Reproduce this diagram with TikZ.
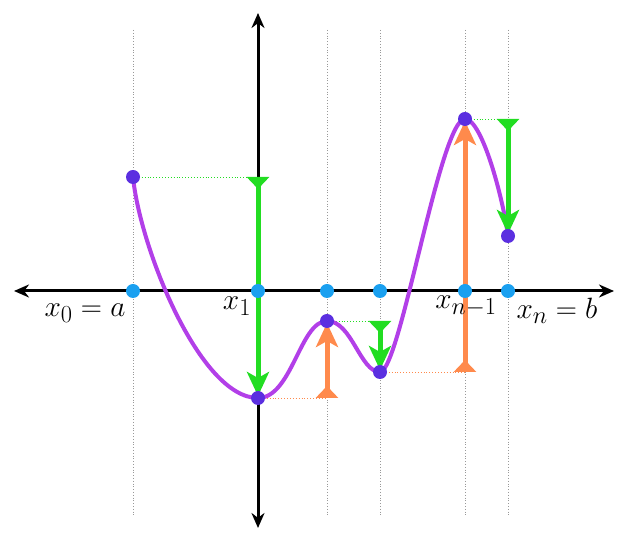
\documentclass[tikz,border=0pt]{standalone}
\usetikzlibrary{arrows.meta}
\definecolor{ptblue}{HTML}{1AA0F0}
\definecolor{curvep}{HTML}{B23FE8}
\definecolor{dotp}{HTML}{5B2FE0}
\definecolor{grn}{HTML}{22DD22}
\definecolor{org}{HTML}{FF8A4C}
\tikzset{
  axisline/.style={line width=3pt,{Stealth[width=13pt,length=15pt]}-{Stealth[width=13pt,length=15pt]}},
  gridline/.style={gray!80,line width=0.8pt,dotted},
  axispt/.style={circle,fill=ptblue,inner sep=0pt,minimum size=14pt},
  curvept/.style={circle,fill=dotp,inner sep=0pt,minimum size=14pt},
  curveline/.style={curvep,line width=4pt},
  garrow/.style={grn,line width=5pt,{Triangle[reversed,width=22pt,length=12pt]}-{Stealth[width=22pt,length=24pt,inset=6pt]}},
  oarrow/.style={org,line width=5pt,{Triangle[reversed,width=22pt,length=12pt]}-{Stealth[width=22pt,length=24pt,inset=6pt]}},
  gdot/.style={grn,line width=0.9pt,dotted},
  odot/.style={org,line width=0.9pt,dotted},
  lbl/.style={font=\Huge,inner sep=0pt,scale=1.18,transform shape}
}
\begin{document}
\begin{tikzpicture}[x=1pt,y=1pt]
\useasboundingbox (0,0) rectangle (624,538);
% grid lines
\foreach \i/\x in {0/133,2/327,3/380,4/465,5/508}{
  \coordinate (gt\i) at (\x,508);
  \coordinate (gb\i) at (\x,23);
  \draw[gridline] (gt\i) -- (gb\i);
}
\coordinate (gt1) at (258,508); \coordinate (gb1) at (258,23);
\draw[gridline] (gt1) -- (gb1);
% axes
\coordinate (xl) at (14,247); \coordinate (xr) at (614,247);
\coordinate (yt) at (258,525); \coordinate (yb) at (258,10);
\draw[axisline] (xl) -- (xr);
\draw[axisline] (yb) -- (yt);
% curve points
\coordinate (A) at (133,361);
\coordinate (B) at (258,140);
\coordinate (C) at (327,217);
\coordinate (D) at (380,166);
\coordinate (E) at (465,419);
\coordinate (F) at (508,302);
% helper coordinates
\coordinate (A1) at (258,361);
\coordinate (B1) at (327,140);
\coordinate (C1) at (380,217);
\coordinate (D1) at (465,166);
\coordinate (E1) at (508,419);
% dotted horizontals
\draw[gdot] (A) -- (A1);
\draw[odot] (B) -- (B1);
\draw[gdot] (C) -- (C1);
\draw[odot] (D) -- (D1);
\draw[gdot] (E) -- (E1);
% curve
\draw[curveline] (A) .. controls (140,290) and (200,140) .. (B)
  .. controls (292,140) and (300,217) .. (C)
  .. controls (352,217) and (360,166) .. (D)
  .. controls (400,166) and (440,419) .. (E)
  .. controls (482,419) and (503,340) .. (F);
% arrows
\draw[garrow] (A1) -- ([yshift=2pt]B);
\draw[oarrow] (B1) -- ([yshift=-2pt]C);
\draw[garrow] (C1) -- ([yshift=2pt]D);
\draw[oarrow] (D1) -- ([yshift=-2pt]E);
\draw[garrow] (E1) -- ([yshift=2pt]F);
% axis points
\foreach \i/\x in {0/133,1/258,2/327,3/380,4/465,5/508}{
  \node[axispt] (p\i) at (\x,247) {};
}
% curve dots
\foreach \n in {A,B,C,D,E,F}{
  \node[curvept] (d\n) at (\n) {};
}
% labels
\node[lbl] (l0) at (85,225) {$x_0 = a$};
\node[lbl] (l1) at (237,232) {$x_1$};
\node[lbl] (l4) at (466,232) {$x_{n-1}$};
\node[lbl] (l5) at (557,227) {$x_n = b$};
\end{tikzpicture}
\end{document}
